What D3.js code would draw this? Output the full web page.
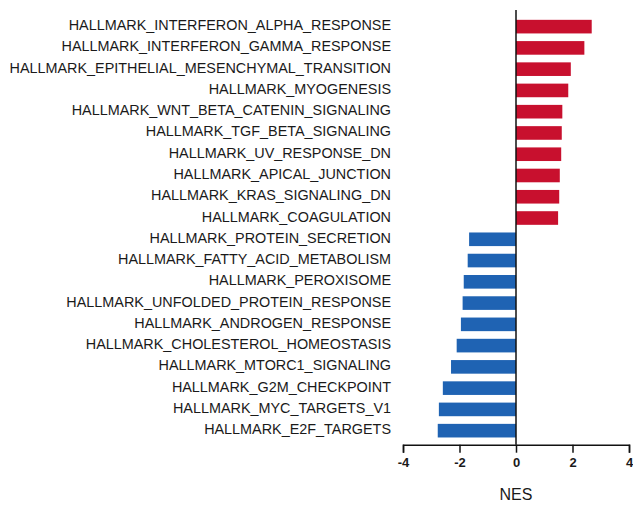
<!DOCTYPE html>
<html>
<head>
<meta charset="utf-8">
<script src="https://cdn.jsdelivr.net/npm/d3@7"></script>
<style>
  body { margin: 0; background: #fff; }
  svg { display: block; font-family: Arial, "Liberation Sans", sans-serif; }
</style>
</head>
<body>
<div id="chart"></div>
<script>
const pathways = [
  'HALLMARK_INTERFERON_ALPHA_RESPONSE',
  'HALLMARK_INTERFERON_GAMMA_RESPONSE',
  'HALLMARK_EPITHELIAL_MESENCHYMAL_TRANSITION',
  'HALLMARK_MYOGENESIS',
  'HALLMARK_WNT_BETA_CATENIN_SIGNALING',
  'HALLMARK_TGF_BETA_SIGNALING',
  'HALLMARK_UV_RESPONSE_DN',
  'HALLMARK_APICAL_JUNCTION',
  'HALLMARK_KRAS_SIGNALING_DN',
  'HALLMARK_COAGULATION',
  'HALLMARK_PROTEIN_SECRETION',
  'HALLMARK_FATTY_ACID_METABOLISM',
  'HALLMARK_PEROXISOME',
  'HALLMARK_UNFOLDED_PROTEIN_RESPONSE',
  'HALLMARK_ANDROGEN_RESPONSE',
  'HALLMARK_CHOLESTEROL_HOMEOSTASIS',
  'HALLMARK_MTORC1_SIGNALING',
  'HALLMARK_G2M_CHECKPOINT',
  'HALLMARK_MYC_TARGETS_V1',
  'HALLMARK_E2F_TARGETS'
]
const nes = [2.68, 2.42, 1.94, 1.85, 1.64, 1.62, 1.60, 1.55, 1.53, 1.49,
  -1.66, -1.71, -1.85, -1.89, -1.95, -2.10, -2.30, -2.59, -2.73, -2.77]
const xTicks = [-4, -2, 0, 2, 4]

const width = 633, height = 507
const red = '#c8102e', blue = '#1f63b3'

const svg = d3.select('#chart').append('svg')
  .attr('width', width).attr('height', height)

const x = d3.scaleLinear().domain([-4, 4]).range([403, 629])
const y = d3.scaleBand().domain(pathways).range([16, 441.3])
  .paddingInner(0.36).paddingOuter(0.18)
const axisY = 444.7

const rows = pathways.map((p, i) => ({ name: p, v: nes[i] }))

svg.append('g').selectAll('rect')
  .data(rows)
  .join('rect')
  .attr('x', d => x(Math.min(0, d.v)))
  .attr('width', d => Math.abs(x(d.v) - x(0)))
  .attr('y', d => y(d.name))
  .attr('height', y.bandwidth())
  .attr('fill', d => (d.v > 0 ? red : blue))

// labels
svg.append('g')
  .attr('text-anchor', 'end')
  .style('font-size', '14.4px')
  .attr('fill', '#1a1a1a')
  .selectAll('text')
  .data(rows)
  .join('text')
  .attr('x', 391)
  .attr('y', d => y(d.name) + y.bandwidth() / 2 - 1.5)
  .attr('dy', '0.35em')
  .text(d => d.name)

// zero line
svg.append('line')
  .attr('x1', x(0)).attr('x2', x(0))
  .attr('y1', 10).attr('y2', axisY)
  .attr('stroke', '#111').attr('stroke-width', 1.5)

// x axis
const xAxis = d3.axisBottom(x).tickValues(xTicks).tickSize(8).tickPadding(5)
  .tickFormat(d => String(d))
const gx = svg.append('g')
  .attr('transform', `translate(0,${axisY})`)
  .call(xAxis)
gx.select('.domain').attr('stroke', '#111').attr('stroke-width', 1.5)
gx.selectAll('.tick line').attr('stroke', '#111').attr('stroke-width', 1.5)
gx.selectAll('.tick text')
  .style('font-size', '13px')
  .style('font-weight', 'bold')
  .style('font-family', 'Arial, "Liberation Sans", sans-serif')
  .attr('fill', '#1a1a1a')

svg.append('text')
  .attr('x', x(0)).attr('y', 500)
  .attr('text-anchor', 'middle')
  .style('font-size', '16px')
  .attr('fill', '#1a1a1a')
  .text('NES')
</script>
</body>
</html>
